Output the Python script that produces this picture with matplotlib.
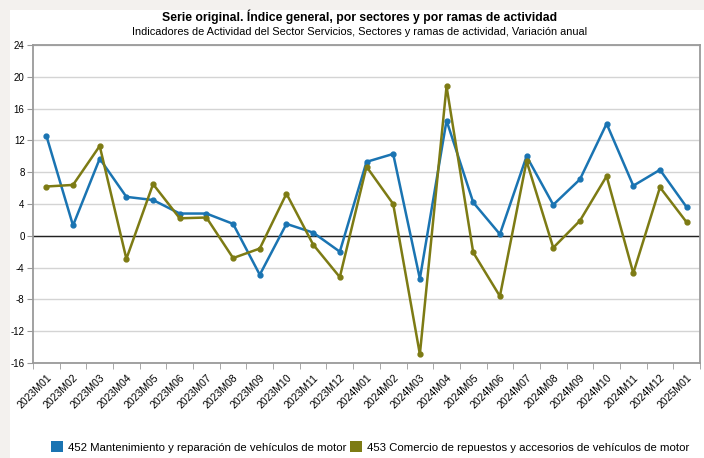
import matplotlib
matplotlib.use("Agg")
import matplotlib.pyplot as plt
from matplotlib.patches import Rectangle
from matplotlib.patches import Patch
import numpy as np

periods = ["2023M01", "2023M02", "2023M03", "2023M04", "2023M05", "2023M06",
           "2023M07", "2023M08", "2023M09", "2023M10", "2023M11", "2023M12",
           "2024M01", "2024M02", "2024M03", "2024M04", "2024M05", "2024M06",
           "2024M07", "2024M08", "2024M09", "2024M10", "2024M11", "2024M12",
           "2025M01"]
mantenimiento = [12.6, 1.3, 9.7, 4.9, 4.5, 2.8, 2.8, 1.5, -4.9, 1.5, 0.4, -2.0,
                 9.3, 10.3, -5.4, 14.5, 4.2, 0.2, 10.0, 3.9, 7.1, 14.1, 6.3, 8.3, 3.6]
comercio = [6.2, 6.4, 11.3, -2.9, 6.5, 2.2, 2.3, -2.8, -1.6, 5.3, -1.1, -5.2,
            8.7, 4.0, -14.9, 18.8, -2.1, -7.6, 9.4, -1.5, 1.9, 7.5, -4.7, 6.1, 1.7]
name_a = "452 Mantenimiento y reparación de vehículos de motor"
name_b = "453 Comercio de repuestos y accesorios de vehículos de motor"
title = "Serie original. Índice general, por sectores y por ramas de actividad"
subtitle = "Indicadores de Actividad del Sector Servicios, Sectores y ramas de actividad, Variación anual"
yticks = list(range(-16, 25, 4))

BLUE = "#1a74b2"
OLIVE = "#7d7b14"

plt.rcParams['font.family'] = ['Liberation Sans', 'DejaVu Sans']

fig = plt.figure(figsize=(7.04, 4.58), dpi=100)
fig.patch.set_facecolor("#f3f1ee")
fig.patches.append(Rectangle((10/704, 0), 1, 1 - 10/458, transform=fig.transFigure,
                             facecolor="white", edgecolor="none", zorder=-10))

ax = fig.add_axes([33/704, 1 - 363/458, 667/704, 318/458])
ax.set_zorder(1)
x = np.arange(len(periods))
ax.plot(x, mantenimiento, color=BLUE, lw=1.8, marker="o", ms=3.5, zorder=3)
ax.plot(x, comercio, color=OLIVE, lw=1.8, marker="o", ms=3.5, zorder=3)
ax.axhline(0, color="#222222", lw=1.0, zorder=2)

ax.set_xlim(-0.5, len(periods) - 0.5)
ax.set_ylim(-16, 24)
ax.set_yticks(yticks)
ax.set_yticklabels([str(v) for v in yticks], fontsize=7)
ax.yaxis.grid(True, color="#d4d4d4", lw=1.0)
ax.set_axisbelow(True)

ax.set_xticks(x)
ax.set_xticklabels(periods, rotation=45, ha="right", rotation_mode="anchor", fontsize=7.5)
ax.tick_params(axis="x", length=0, pad=7)
ax.set_xticks(np.arange(-0.5, len(periods), 1), minor=True)
ax.tick_params(axis="x", which="minor", length=4, color="#999999")
ax.tick_params(axis="y", length=4, color="#999999", pad=2)
for s in ax.spines.values():
    s.set_color("#9a9a9a")
    s.set_linewidth(1.3)

fig.text(360/704, 1 - 17/458, title, ha="center", va="center", fontsize=8.8, fontweight="bold")
fig.text(360/704, 1 - 32/458, subtitle, ha="center", va="center", fontsize=7.9)

handles = [Patch(facecolor=BLUE, edgecolor="none"), Patch(facecolor=OLIVE, edgecolor="none")]
fig.legend(handles, [name_a, name_b], loc="center", bbox_to_anchor=(370/704, 1 - 447/458),
           ncol=2, frameon=False, fontsize=8.2, handlelength=1.1, handleheight=1.1,
           handletextpad=0.4, columnspacing=0.3)

fig.savefig("out.png", dpi=100)
